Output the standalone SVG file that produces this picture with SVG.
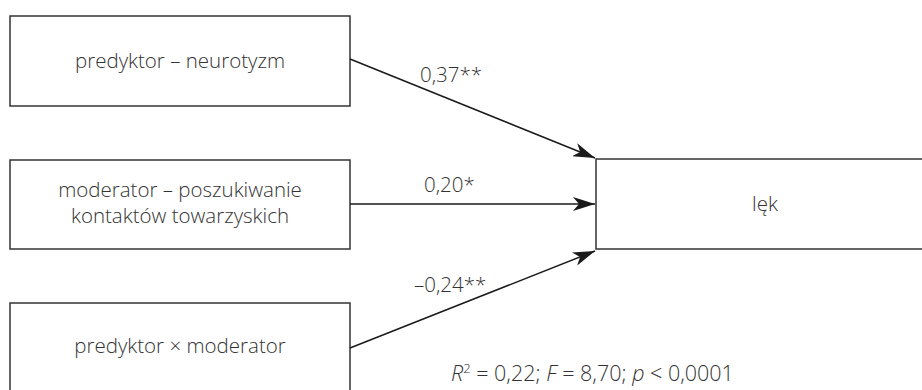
<svg xmlns="http://www.w3.org/2000/svg" width="922" height="390" viewBox="0 0 922 390">
  <style>
    .box { fill: #ffffff; stroke: #333333; stroke-width: 1.5; }
    .lbl { font-family: "Open Sans", "Liberation Sans", sans-serif; font-size: 20.5px; fill: #333333; font-weight: 300; }
    .mid { text-anchor: middle; }
    .edge { fill: none; stroke: #1a1a1a; stroke-width: 1.5; }
    .stats { font-size: 21.5px; }
    .sup { font-size: 13px; }
  </style>
  <defs>
    <marker id="arrow" viewBox="0 0 22 14" refX="22" refY="7" markerWidth="22" markerHeight="14" markerUnits="userSpaceOnUse" orient="auto">
      <path d="M0,0 L22,7 L0,14 L6,7 Z" fill="#1a1a1a"/>
    </marker>
  </defs>
  <rect width="922" height="390" fill="#ffffff"/>

  <g id="node-predyktor">
    <rect class="box" x="10" y="16" width="340" height="90"/>
    <text class="lbl mid" x="180" y="68">predyktor – neurotyzm</text>
  </g>

  <g id="node-moderator">
    <rect class="box" x="10" y="160" width="340" height="89"/>
    <text class="lbl mid" x="180" y="197">moderator – poszukiwanie</text>
    <text class="lbl mid" x="180" y="223">kontaktów towarzyskich</text>
  </g>

  <g id="node-interakcja">
    <path class="box" d="M10,395 L10,303 L350,303 L350,395"/>
    <text class="lbl mid" x="180" y="353">predyktor × moderator</text>
  </g>

  <g id="node-lek">
    <path class="box" d="M925,159 L596,159 L596,249 L925,249"/>
    <text class="lbl mid" x="765" y="211">lęk</text>
  </g>

  <g id="connectors">
    <line class="edge" x1="350" y1="59" x2="595" y2="158" marker-end="url(#arrow)"/>
    <line class="edge" x1="350" y1="204" x2="595" y2="204" marker-end="url(#arrow)"/>
    <line class="edge" x1="350" y1="348" x2="595" y2="251" marker-end="url(#arrow)"/>
    <text class="lbl" x="420" y="82">0,37**</text>
    <text class="lbl" x="424" y="192">0,20*</text>
    <text class="lbl" x="414" y="292">–0,24**</text>
  </g>

  <text class="lbl stats" x="451" y="381"><tspan font-style="italic">R</tspan><tspan class="sup" dy="-8">2</tspan><tspan dy="8"> = 0,22; </tspan><tspan font-style="italic">F</tspan> = 8,70; <tspan font-style="italic">p</tspan> &lt; 0,0001</text>
</svg>
